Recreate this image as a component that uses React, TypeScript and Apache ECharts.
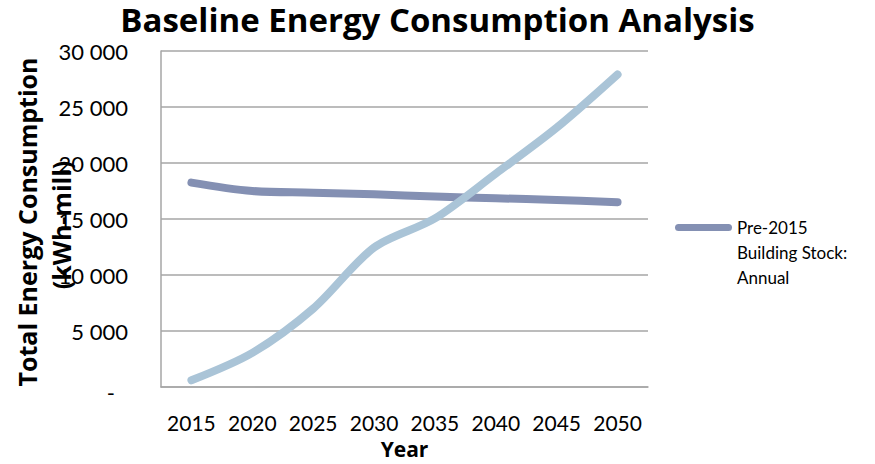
import React, { useEffect, useRef } from "react";
import * as echarts from "echarts";

// Years on the horizontal axis
const years = ["2015", "2020", "2025", "2030", "2035", "2040", "2045", "2050"];

// Annual consumption, kWh millions
const preStock = [18250, 17500, 17350, 17200, 17000, 16850, 16700, 16500];
const newStock = [600, 3050, 7000, 12450, 15050, 19050, 23150, 27900];

// Value axis ticks
const yTicks = [0, 5000, 10000, 15000, 20000, 25000, 30000];

const FONT = "Lato, 'Open Sans', 'DejaVu Sans', sans-serif";
const BOLD_FONT = "'Open Sans', Lato, 'DejaVu Sans', sans-serif";
const GRID_COLOR = "#A6A6A6";

function fmtThousands(v: number): string {
  if (v === 0) return "{d|-}";
  const s = String(Math.round(v));
  return s.replace(/\B(?=(\d{3})+(?!\d))/g, " ");
}

export default function App() {
  const ref = useRef<HTMLDivElement>(null);

  useEffect(() => {
    document.body.style.margin = "0";
    if (!ref.current) return;
    const chart = echarts.init(ref.current, undefined, { renderer: "svg" });

    chart.setOption({
      animation: false,
      backgroundColor: "#ffffff",
      textStyle: { fontFamily: FONT },
      title: {
        text: "Baseline Energy Consumption Analysis",
        left: "center",
        top: 3,
        padding: 0,
        textStyle: {
          fontFamily: BOLD_FONT,
          fontWeight: "bold",
          fontSize: 33,
          color: "#000",
        },
      },
      legend: {
        data: ["Pre-2015 Building Stock: Annual"],
        orient: "vertical",
        left: 670,
        top: 160,
        itemWidth: 57,
        itemHeight: 7,
        icon: "path://M3.5,0 L53.5,0 A3.5,3.5 0 0 1 53.5,7 L3.5,7 A3.5,3.5 0 0 1 3.5,0 Z",
        formatter: () => "\n\nPre-2015\nBuilding Stock:\nAnnual",
        textStyle: {
          fontFamily: FONT,
          fontSize: 17,
          color: "#000",
          lineHeight: 25,
        },
      },
      grid: { left: 161, right: 227, top: 51, bottom: 73 },
      xAxis: {
        type: "category",
        data: years,
        boundaryGap: true,
        name: "Year",
        nameLocation: "middle",
        nameGap: 51,
        nameTextStyle: { fontFamily: BOLD_FONT, fontWeight: "bold", fontSize: 21, color: "#000" },
        axisLine: { show: true, lineStyle: { color: GRID_COLOR, width: 1.5 } },
        axisTick: { show: false },
        axisLabel: { fontFamily: FONT, fontSize: 21, color: "#000", margin: 25, interval: 0 },
      },
      yAxis: {
        type: "value",
        min: yTicks[0],
        max: yTicks[yTicks.length - 1],
        interval: yTicks[1] - yTicks[0],
        axisLine: { show: true, lineStyle: { color: GRID_COLOR, width: 1.5 } },
        axisTick: { show: false },
        splitLine: { show: true, lineStyle: { color: GRID_COLOR, width: 1.5 } },
        axisLabel: {
          fontFamily: FONT,
          fontSize: 22,
          color: "#000",
          margin: 33,
          formatter: (v: number) => fmtThousands(v),
          rich: {
            d: { fontFamily: FONT, fontSize: 22, color: "#000", padding: [10, 13, 0, 0] },
          },
        },
      },
      graphic: [
        {
          type: "text",
          x: 27,
          y: 222,
          rotation: Math.PI / 2,
          style: {
            text: "Total Energy Consumption",
            font: `bold 25px ${BOLD_FONT}`,
            fill: "#000",
            align: "center",
            verticalAlign: "middle",
          },
        },
        {
          type: "text",
          x: 61,
          y: 225,
          rotation: Math.PI / 2,
          style: {
            text: "(kWh-mill)",
            font: `bold 25px ${BOLD_FONT}`,
            fill: "#000",
            align: "center",
            verticalAlign: "middle",
          },
        },
      ],
      series: [
        {
          name: "Pre-2015 Building Stock: Annual",
          type: "line",
          data: preStock,
          smooth: 0.35,
          showSymbol: false,
          symbol: "none",
          itemStyle: { color: "#8490B3" },
          lineStyle: { color: "#8490B3", width: 8, cap: "round", join: "round" },
        },
        {
          name: "New Building Stock: Annual",
          type: "line",
          data: newStock,
          smooth: 0.3,
          showSymbol: false,
          symbol: "none",
          itemStyle: { color: "#AAC4D7" },
          lineStyle: { color: "#AAC4D7", width: 8, cap: "round", join: "round" },
        },
      ],
    });

    return () => chart.dispose();
  }, []);

  return <div ref={ref} style={{ width: 875, height: 464 }} />;
}
